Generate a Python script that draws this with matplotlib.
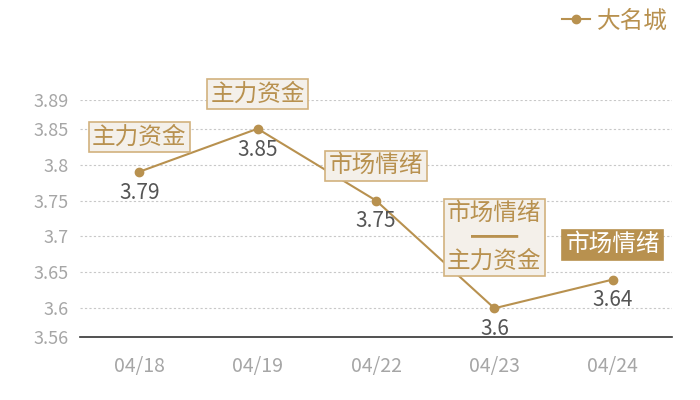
import matplotlib
matplotlib.use("Agg")
import matplotlib.pyplot as plt

plt.rcParams["font.family"] = ["Noto Sans CJK SC", "DejaVu Sans"]

dates = ["04/18", "04/19", "04/22", "04/23", "04/24"]
prices = [3.79, 3.85, 3.75, 3.60, 3.64]
tags = ["主力资金", "主力资金", "市场情绪", "市场情绪\n━━\n主力资金", "市场情绪"]
yticks = [3.56, 3.6, 3.65, 3.7, 3.75, 3.8, 3.85, 3.89]
series_name = "大名城"

GOLD = "#b8914f"
BOX_FILL = "#f4f0ea"
BOX_EDGE = "#d2b27e"

fig = plt.figure(figsize=(7, 4), dpi=100)
ax = fig.add_axes([80 / 700, 1 - 337 / 400, 592 / 700, 237 / 400])

x = list(range(len(dates)))
ax.plot(x, prices, color=GOLD, lw=1.5, marker="o", ms=6, label=series_name, zorder=3)

ax.set_xlim(-0.5, len(dates) - 0.5)
ax.set_ylim(yticks[0], yticks[-1])
ax.set_yticks(yticks)
ax.set_yticklabels([f"{v:g}" for v in yticks])
ax.set_xticks(x)
ax.set_xticklabels(dates)

for s in ["top", "right", "left"]:
    ax.spines[s].set_visible(False)
ax.spines["bottom"].set_color("#333333")
ax.spines["bottom"].set_linewidth(1.2)
ax.tick_params(axis="both", length=0, colors="#a6a6a6")
ax.tick_params(axis="x", pad=14, labelsize=14)
ax.tick_params(axis="y", pad=8, labelsize=13)
for v in yticks[1:]:
    ax.axhline(v, color="#c8c8c8", lw=0.8, ls=(0, (2, 2)), zorder=1)

for i, (p, t) in enumerate(zip(prices, tags)):
    ax.annotate(f"{p:g}", (i, p), xytext=(0, -15), textcoords="offset points",
                ha="center", va="center", fontsize=15, color="#555555")
    last = i == len(prices) - 1
    two = "\n" in t
    off = 51 if two else 25
    ax.annotate(t, (i, p), xytext=(0, off), textcoords="offset points",
                ha="center", va="center", fontsize=17,
                color="white" if last else GOLD, linespacing=1.05,
                bbox=dict(boxstyle="square,pad=0.14",
                          fc=GOLD if last else BOX_FILL,
                          ec=GOLD if last else BOX_EDGE, lw=1.2),
                zorder=5)

fig.legend(loc="upper right", bbox_to_anchor=(0.985, 1.03), frameon=False,
           fontsize=17, handlelength=1.2, handletextpad=0.3, labelcolor=GOLD)

fig.savefig("out.png", dpi=100, facecolor="white")
